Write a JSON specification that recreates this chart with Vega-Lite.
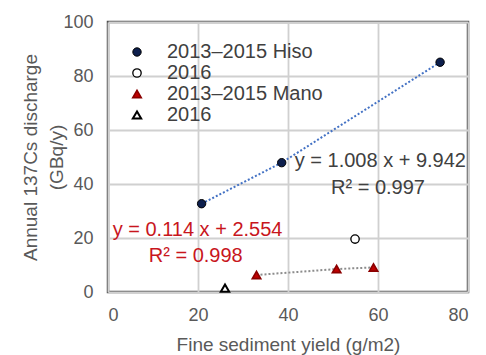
{
  "$schema": "https://vega.github.io/schema/vega-lite/v6.json",
  "autosize": "none",
  "width": 360,
  "height": 270,
  "padding": {"left": 108, "top": 22, "right": 18, "bottom": 63},
  "background": "#ffffff",
  "datasets": {
    "pts": [
      {"series": "2013–2015 Hiso", "x": 20.8, "y": 32.7},
      {"series": "2013–2015 Hiso", "x": 38.6, "y": 47.9},
      {"series": "2013–2015 Hiso", "x": 73.8, "y": 85.1},
      {"series": "2016", "x": 54.9, "y": 19.6},
      {"series": "2013–2015 Mano", "x": 33.0, "y": 6.3},
      {"series": "2013–2015 Mano", "x": 50.8, "y": 8.5},
      {"series": "2013–2015 Mano", "x": 59.0, "y": 9.1},
      {"series": "2016 ", "x": 26.0, "y": 1.4}
    ],
    "notes": [
      {"text": "y = 1.008 x + 9.942", "x": 41.5, "y": 48.5, "group": "hiso", "pos": "left"},
      {"text": "R² = 0.997", "x": 60.0, "y": 38.5, "group": "hiso", "pos": "center"},
      {"text": "y = 0.114 x + 2.554", "x": 19.9, "y": 23.1, "group": "mano", "pos": "center"},
      {"text": "R² = 0.998", "x": 19.5, "y": 13.3, "group": "mano", "pos": "center"}
    ]
  },
  "encoding": {
    "x": {
      "field": "x", "type": "quantitative",
      "scale": {"domain": [0, 80], "nice": false, "zero": true},
      "axis": {"values": [0, 20, 40, 60, 80], "title": "Fine sediment yield (g/m2)", "labelPadding": 14, "titlePadding": 11}
    },
    "y": {
      "field": "y", "type": "quantitative",
      "scale": {"domain": [0, 100], "nice": false, "zero": true},
      "axis": {"values": [0, 20, 40, 60, 80, 100], "title": ["Annual 137Cs discharge", "(GBq/y)"], "labelPadding": 15, "titlePadding": -4, "titleLineHeight": 26}
    }
  },
  "layer": [
    {
      "data": {"name": "pts"},
      "transform": [{"filter": "datum.series == '2013–2015 Hiso'"}],
      "mark": {"type": "line", "color": "#4472c4", "strokeWidth": 2, "strokeDash": [2, 2]}
    },
    {
      "data": {"name": "pts"},
      "transform": [{"filter": "datum.series == '2013–2015 Mano'"}],
      "mark": {"type": "line", "color": "#8c8c8c", "strokeWidth": 2, "strokeDash": [2, 2]}
    },
    {
      "data": {"name": "pts"},
      "mark": {"type": "point", "filled": true, "size": 70, "opacity": 1},
      "encoding": {
        "shape": {
          "field": "series", "type": "nominal",
          "scale": {"domain": ["2013–2015 Hiso", "2016", "2013–2015 Mano", "2016 "], "range": ["circle", "circle", "triangle-up", "triangle-up"]},
          "legend": {"title": null}
        },
        "fill": {
          "field": "series", "type": "nominal",
          "scale": {"domain": ["2013–2015 Hiso", "2016", "2013–2015 Mano", "2016 "], "range": ["#0d1f4d", "#ffffff", "#c00000", "#ffffff"]},
          "legend": {"title": null}
        },
        "stroke": {
          "field": "series", "type": "nominal",
          "scale": {"domain": ["2013–2015 Hiso", "2016", "2013–2015 Mano", "2016 "], "range": ["#000000", "#000000", "#8b0000", "#000000"]},
          "legend": {"title": null}
        },
        "strokeWidth": {
          "field": "series", "type": "nominal",
          "scale": {"domain": ["2013–2015 Hiso", "2016", "2013–2015 Mano", "2016 "], "range": [1, 2, 1, 2]},
          "legend": null
        }
      }
    },
    {
      "data": {"name": "notes"},
      "transform": [{"filter": "datum.pos == 'left'"}],
      "mark": {"type": "text", "align": "left", "baseline": "middle", "fontSize": 20, "font": "Liberation Sans"},
      "encoding": {
        "text": {"field": "text"},
        "color": {"field": "group", "type": "nominal", "scale": {"domain": ["hiso", "mano"], "range": ["#404040", "#c8161d"]}, "legend": null}
      }
    },
    {
      "data": {"name": "notes"},
      "transform": [{"filter": "datum.pos == 'center'"}],
      "mark": {"type": "text", "align": "center", "baseline": "middle", "fontSize": 20, "font": "Liberation Sans"},
      "encoding": {
        "text": {"field": "text"},
        "color": {"field": "group", "type": "nominal", "scale": {"domain": ["hiso", "mano"], "range": ["#404040", "#c8161d"]}, "legend": null}
      }
    }
  ],
  "config": {
    "font": "Liberation Sans",
    "view": {"stroke": "#4d4d4d", "strokeWidth": 2.5},
    "axis": {
      "domain": false,
      "ticks": false,
      "grid": true,
      "gridColor": "#d0d0d0",
      "gridWidth": 1.8,
      "labelFont": "Liberation Sans",
      "labelFontSize": 18,
      "labelColor": "#595959",
      "titleFont": "Liberation Sans",
      "titleFontSize": 19,
      "titleFontWeight": "normal",
      "titleColor": "#595959"
    },
    "legend": {
      "orient": "none",
      "legendX": 19,
      "legendY": 20,
      "padding": 0,
      "labelFont": "Liberation Sans",
      "labelFontSize": 20,
      "labelColor": "#404040",
      "labelOffset": 20,
      "symbolSize": 70,
      "symbolStrokeWidth": 1.5,
      "rowPadding": 1
    }
  }
}
